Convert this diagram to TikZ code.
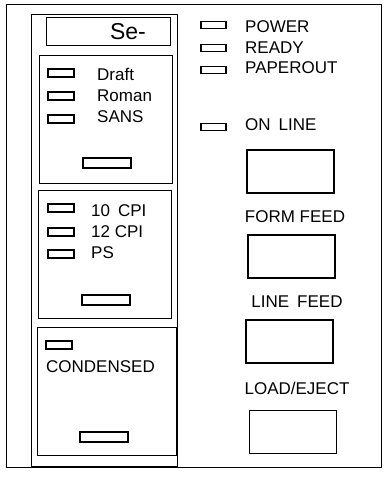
\documentclass[tikz,border=0pt]{standalone}
\usepackage{fontspec}
\setmainfont{Liberation Sans}
\begin{document}
\begin{tikzpicture}[x=1pt,y=-1pt,
  frame/.style={draw, line width=1.2pt, inner sep=0pt},
  led/.style={draw, line width=1.2pt, minimum width=26pt, minimum height=8pt, inner sep=0pt},
  rled/.style={draw, line width=1.2pt, minimum width=25pt, minimum height=7pt, inner sep=0pt},
  sbtn/.style={draw, line width=1.2pt, minimum width=48pt, minimum height=10pt, inner sep=0pt},
  bbtn/.style={draw, line width=1.3pt, minimum width=87pt, minimum height=43pt, inner sep=0pt},
  lab/.style={font=\fontsize{17}{17}\selectfont, inner sep=0pt, anchor=west},
  clab/.style={font=\fontsize{17}{17}\selectfont, inner sep=0pt}]
\useasboundingbox (0,0) rectangle (383,478);
% outer frame and panels
\node[frame, minimum width=375pt, minimum height=463pt, anchor=north west] (outer) at (6,4) {};
\node[frame, minimum width=146pt, minimum height=452pt, anchor=north west] (panel) at (31,14) {};
\node[frame, minimum width=124pt, minimum height=28pt, anchor=north west] (sebox) at (46,17) {};
\node[font=\fontsize{23}{23}\selectfont, inner sep=0pt] (se) at (128,32) {Se-};
% group 1
\node[frame, minimum width=133pt, minimum height=128pt, anchor=north west] (g1) at (39,55) {};
\node[led] (l1) at (61,73) {};
\node[led] (l2) at (61,96) {};
\node[led] (l3) at (61,119) {};
\node[lab] (t1) at (97,74) {Draft};
\node[lab] (t2) at (97,96) {Roman};
\node[lab] (t3) at (97,117) {SANS};
\node[sbtn] (b1) at (107,163) {};
% group 2
\node[frame, minimum width=133pt, minimum height=128pt, anchor=north west] (g2) at (38,190) {};
\node[led] (l4) at (61,208) {};
\node[led] (l5) at (61,232) {};
\node[led] (l6) at (61,254) {};
\node[lab] (t4) at (91,211) {10\hspace{8pt}CPI};
\node[lab] (t5) at (91,232) {12 CPI};
\node[lab] (t6) at (91,253) {PS};
\node[sbtn] (b2) at (106,300) {};
% group 3
\node[frame, minimum width=139pt, minimum height=128pt, anchor=north west] (g3) at (37,327) {};
\node[led] (l7) at (59,345) {};
\node[lab] (t7) at (46,367) {CONDENSED};
\node[sbtn] (b3) at (104,437) {};
% right side
\node[rled] (r1) at (213.5,25) {};
\node[rled] (r2) at (213.5,48) {};
\node[rled] (r3) at (213.5,70) {};
\node[rled] (r4) at (213.5,127) {};
\node[lab] (rt1) at (245,27) {POWER};
\node[lab] (rt2) at (245,48) {READY};
\node[lab] (rt3) at (245,68) {PAPEROUT};
\node[lab] (rt4) at (245,125) {ON\hspace{8pt}LINE};
\node[bbtn] (k1) at (290.5,171.5) {};
\node[clab] (kt2) at (295,217) {FORM FEED};
\node[bbtn] (k2) at (291.5,256.5) {};
\node[clab] (kt3) at (297,302) {LINE\hspace{8pt}FEED};
\node[bbtn] (k3) at (289.5,341.5) {};
\node[clab] (kt4) at (297,388) {LOAD/EJECT};
\node[bbtn] (k4) at (293,432) {};
\end{tikzpicture}
\end{document}
